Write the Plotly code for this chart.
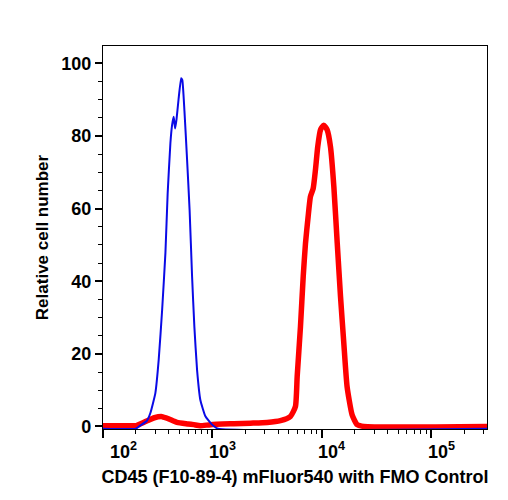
import math
import plotly.graph_objects as go

# ---- data (fluorescence intensity, relative cell number) ----
fmo_x = [100, 200, 220, 251, 271, 301, 323, 347, 372, 390, 413, 428, 443, 456, 469,
         490, 518, 531, 555, 587, 619, 652, 684, 724, 776, 863, 993, 1122, 323600]
fmo_y = [-0.6, -0.6, 0.3, 1.5, 3.7, 9.2, 18.4, 32, 47.8, 64.2, 78, 83, 85.3, 82.1, 84.4,
         90, 95.9, 95.4, 87, 73.4, 59.6, 41.3, 27.5, 15.6, 7.3, 2.8, 0.5, -0.6, -0.6]

cd45_x = [100, 200, 205, 251, 295, 347, 398, 475, 600, 675, 776, 960, 1571, 2228, 3170,
          4188, 5164, 5741, 5957, 6383, 6761, 7096, 7499, 7870, 8337, 8750, 9183, 9727,
          10420, 11194, 11995, 12882, 13836, 14825, 15888, 17022, 18923, 21038, 24210, 323600]
cd45_y = [0.2, 0.2, 0.3, 1.5, 2.4, 2.7, 2.1, 1.1, 0.7, 0.5, 0.2, 0.5, 0.75, 0.9, 1.1,
          1.6, 2.75, 5.5, 13.8, 27.5, 41.3, 50.5, 57.8, 63.3, 65.5, 70.7, 77.1, 81.7,
          83.0, 81.7, 77.1, 66.1, 50.5, 35.8, 23, 11, 3.2, 0.5, 0.0, 0.0]

x_major = [100, 1000, 10000, 100000]
x_tick_labels = ["10<sup>2</sup>", "10<sup>3</sup>", "10<sup>4</sup>", "10<sup>5</sup>"]
x_label_shift = [20, 10, 10, 10]
y_major = [0, 20, 40, 60, 80, 100]

FONT = "Liberation Sans, Arial, sans-serif"

fig = go.Figure()
fig.add_trace(go.Scatter(x=cd45_x, y=cd45_y, mode="lines",
                         line=dict(color="#ff0000", width=5.5, shape="spline", smoothing=0.5),
                         showlegend=False))
fig.add_trace(go.Scatter(x=fmo_x, y=fmo_y, mode="lines",
                         line=dict(color="#0a0ae6", width=2, shape="spline", smoothing=0.4),
                         showlegend=False))

x_minor = [m * 10 ** e for e in range(2, 6) for m in range(2, 10)]

fig.update_layout(
    width=508, height=500,
    margin=dict(l=103, r=21, t=46, b=71),
    paper_bgcolor="white", plot_bgcolor="white",
    font=dict(family=FONT, color="black"),
    xaxis=dict(
        type="log", range=[2.0, 5.51],
        showline=True, linecolor="black", linewidth=1.2, mirror=True,
        showgrid=False, zeroline=False,
        ticks="outside", ticklen=8, tickwidth=1.5, tickcolor="black",
        tickvals=x_major, showticklabels=False,
        minor=dict(ticks="outside", ticklen=4, tickwidth=1, tickcolor="black",
                   tickvals=x_minor, showgrid=False),
        title=dict(text="<b>CD45 (F10-89-4) mFluor540 with FMO Control</b>",
                   font=dict(size=18, family=FONT), standoff=33),
    ),
    yaxis=dict(
        range=[-0.7, 104.8],
        showline=True, linecolor="black", linewidth=1.2, mirror=True,
        showgrid=False, zeroline=False,
        ticks="outside", ticklen=7, tickwidth=1.5, tickcolor="black",
        tickvals=y_major,
        tickfont=dict(size=18, family=FONT, weight="bold"),
        minor=dict(ticks="outside", ticklen=3.5, tickwidth=1, tickcolor="black",
                   dtick=5, showgrid=False),
        title=dict(text="<b>Relative cell number</b>",
                   font=dict(size=17, family=FONT), standoff=8),
    ),
)

for v, t, s in zip(x_major, x_tick_labels, x_label_shift):
    fig.add_annotation(x=math.log10(v), y=0, xref="x", yref="paper",
                       text="<b>" + t + "</b>", showarrow=False,
                       xanchor="center", yanchor="top", xshift=s, yshift=-8,
                       font=dict(size=18, family=FONT, color="black"))

fig.write_html("out.html")
